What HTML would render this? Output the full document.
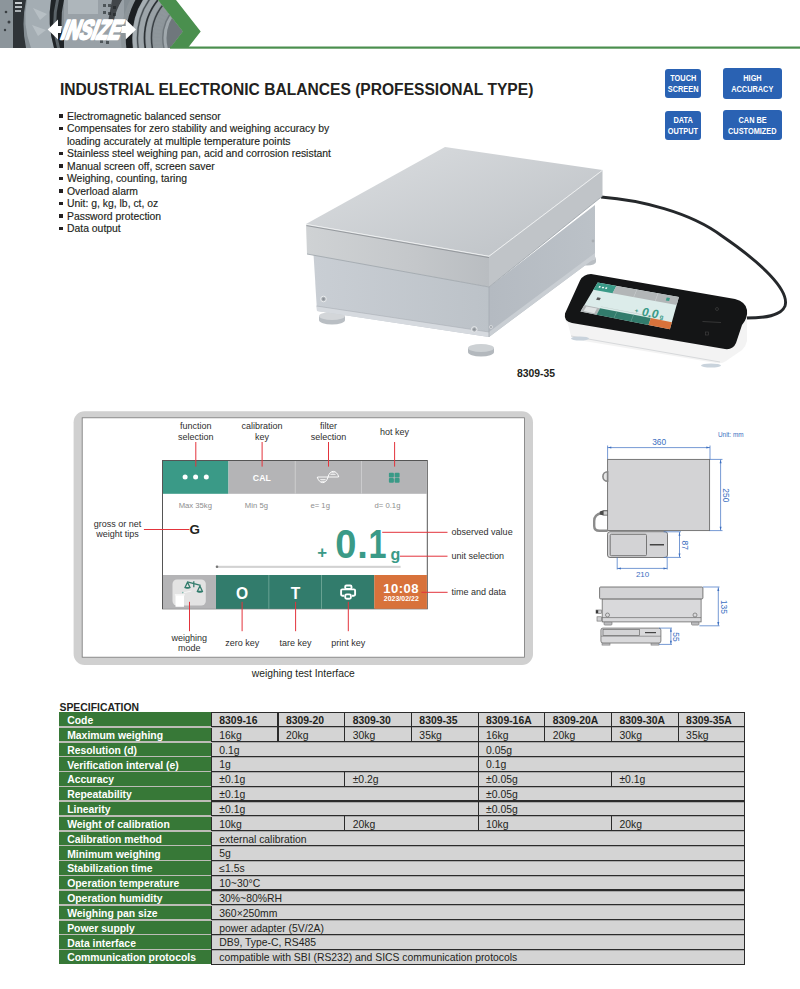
<!DOCTYPE html><html><head><meta charset='utf-8'><style>
*{margin:0;padding:0;box-sizing:border-box}
html,body{width:800px;height:989px;overflow:hidden;background:#fff}
body{position:relative;font-family:"Liberation Sans", sans-serif;color:#231f20}
.a{position:absolute;white-space:nowrap}
.t{-webkit-text-stroke:0.15px currentColor}
</style></head><body>
<svg class="a" style="left:0;top:0" width="800" height="50" viewBox="0 0 800 50">
<defs>
<linearGradient id="hg" x1="0" y1="0" x2="1" y2="0">
<stop offset="0" stop-color="#7d868d"/><stop offset="0.5" stop-color="#6a7279"/><stop offset="1" stop-color="#5d646a"/>
</linearGradient>
<clipPath id="hc"><polygon points="0,0 158,0 182.7,31.5 170,48 0,48"/></clipPath>
</defs>
<g clip-path="url(#hc)">
<rect x="0" y="0" width="200" height="48" fill="#858e94"/>
<rect x="0" y="0" width="15" height="48" fill="#8c959b"/>
<circle cx="6" cy="12" r="1.3" fill="#3a3f43"/><circle cx="9" cy="22" r="1.5" fill="#3a3f43"/><circle cx="5" cy="30" r="1.2" fill="#3a3f43"/>
<path d="M13,0 L26,0 Q21,24 26,48 L13,48 Z" fill="#2f3438"/>
<rect x="15" y="2" width="7" height="2" fill="#c9ced1"/><rect x="15" y="6" width="7" height="2" fill="#b9bfc3"/><rect x="15" y="10" width="6" height="2" fill="#aab0b4"/>
<path d="M27,0 L51,0 Q47,24 54,48 L31,48 Q22,24 27,0 Z" fill="#a4adb3"/>
<path d="M33,8 L47,14 L40,20 Z M32,25 L46,30 L38,36 Z" fill="#b7bfc4"/>
<path d="M51,0 L64,0 Q58,24 66,48 L54,48 Q47,24 51,0 Z" fill="#202427"/>
<path d="M56,0 L59,0 Q53,24 60,48 L57,48 Q50,24 56,0 Z" fill="#5b6368"/>
<rect x="64" y="0" width="60" height="48" fill="#99a1a7"/>
<rect x="68" y="0" width="30" height="14" fill="#aeb6bb"/>
<g fill="#4d5458"><rect x="103" y="4" width="3" height="3"/><rect x="108" y="4" width="3" height="3"/><rect x="113" y="6" width="3" height="3"/><rect x="103" y="11" width="3" height="3"/><rect x="108" y="12" width="3" height="3"/><rect x="113" y="13" width="3" height="3"/><rect x="100" y="40" width="3" height="3"/><rect x="106" y="41" width="3" height="3"/></g>
<circle cx="205" cy="38" r="84" fill="#8d959a"/>
<circle cx="205" cy="38" r="76" fill="none" stroke="#1c1f22" stroke-width="6.5"/>
<circle cx="205" cy="38" r="70.5" fill="none" stroke="#a6aeb3" stroke-width="3.5"/>
<circle cx="205" cy="38" r="67.5" fill="none" stroke="#474e53" stroke-width="1.3"/>
<circle cx="205" cy="38" r="64" fill="none" stroke="#9da5aa" stroke-width="4.5"/>
<circle cx="205" cy="38" r="60.5" fill="none" stroke="#2c3135" stroke-width="1.6"/>
<circle cx="205" cy="38" r="57" fill="none" stroke="#99a1a6" stroke-width="4"/>
<circle cx="205" cy="38" r="53.5" fill="none" stroke="#3a4045" stroke-width="1.5"/>
<circle cx="205" cy="38" r="48" fill="none" stroke="#8f979c" stroke-width="7" stroke-dasharray="2.4 1.4"/>
<circle cx="205" cy="38" r="43" fill="#6f777c"/>
<circle cx="205" cy="38" r="40" fill="none" stroke="#a0a8ad" stroke-width="3"/>
<path d="M112,0 L122,0 Q116,10 114,20 L108,22 Z" fill="#1c1f22" opacity="0.7"/>
</g>
<polygon points="158,0 176,0 200.7,31.5 187.8,48 170,48 182.7,31.5" fill="#4a8f4e"/>
<rect x="170" y="46.5" width="630" height="2.2" fill="#4a8f4e"/>
<g fill="#fff">
<polygon points="47.7,29.4 58,19.5 58,26 62,26 61,33 58,33 58,39.4"/>
<polygon points="136,29.4 125.7,19.5 125.7,26 122,26 121,33 125.7,33 125.7,39.4"/>
<text x="0" y="0" transform="translate(59.5,39.0) skewX(-20) scale(0.68,1)" font-family="Liberation Sans" font-weight="bold" font-size="27" stroke="#fff" stroke-width="2.3" stroke-linejoin="round">INSIZE</text>
</g>
</svg>
<div class="a" style="left:60px;top:81.3px;font-size:15.6px;line-height:18px;font-weight:bold;color:#231f20">INDUSTRIAL ELECTRONIC BALANCES (PROFESSIONAL TYPE)</div>
<div class="a" style="left:59.2px;top:114.30px;width:3.5px;height:3.5px;background:#231f20"></div>
<div class="a t" style="left:67px;top:110.70px;font-size:10.4px;line-height:12.5px">Electromagnetic balanced sensor</div>
<div class="a" style="left:59.2px;top:126.80px;width:3.5px;height:3.5px;background:#231f20"></div>
<div class="a t" style="left:67px;top:123.20px;font-size:10.4px;line-height:12.5px">Compensates for zero stability and weighing accuracy by</div>
<div class="a t" style="left:67px;top:135.70px;font-size:10.4px;line-height:12.5px">loading accurately at multiple temperature points</div>
<div class="a" style="left:59.2px;top:151.80px;width:3.5px;height:3.5px;background:#231f20"></div>
<div class="a t" style="left:67px;top:148.20px;font-size:10.4px;line-height:12.5px">Stainless steel weighing pan, acid and corrosion resistant</div>
<div class="a" style="left:59.2px;top:164.30px;width:3.5px;height:3.5px;background:#231f20"></div>
<div class="a t" style="left:67px;top:160.70px;font-size:10.4px;line-height:12.5px">Manual screen off, screen saver</div>
<div class="a" style="left:59.2px;top:176.80px;width:3.5px;height:3.5px;background:#231f20"></div>
<div class="a t" style="left:67px;top:173.20px;font-size:10.4px;line-height:12.5px">Weighing, counting, taring</div>
<div class="a" style="left:59.2px;top:189.30px;width:3.5px;height:3.5px;background:#231f20"></div>
<div class="a t" style="left:67px;top:185.70px;font-size:10.4px;line-height:12.5px">Overload alarm</div>
<div class="a" style="left:59.2px;top:201.80px;width:3.5px;height:3.5px;background:#231f20"></div>
<div class="a t" style="left:67px;top:198.20px;font-size:10.4px;line-height:12.5px">Unit: g, kg, lb, ct, oz</div>
<div class="a" style="left:59.2px;top:214.30px;width:3.5px;height:3.5px;background:#231f20"></div>
<div class="a t" style="left:67px;top:210.70px;font-size:10.4px;line-height:12.5px">Password protection</div>
<div class="a" style="left:59.2px;top:226.80px;width:3.5px;height:3.5px;background:#231f20"></div>
<div class="a t" style="left:67px;top:223.20px;font-size:10.4px;line-height:12.5px">Data output</div>
<div class="a" style="left:664.6px;top:68.6px;width:36.4px;height:29.8px;background:#2a62b3;border-radius:3px"></div>
<div class="a" style="left:649.6px;top:72.70px;width:66.4px;text-align:center;font-size:9.2px;line-height:11px;font-weight:bold;color:#fff"><span style="display:inline-block;transform:scaleX(0.8)">TOUCH</span></div>
<div class="a" style="left:649.6px;top:83.70px;width:66.4px;text-align:center;font-size:9.2px;line-height:11px;font-weight:bold;color:#fff"><span style="display:inline-block;transform:scaleX(0.8)">SCREEN</span></div>
<div class="a" style="left:723px;top:68.4px;width:58.6px;height:30.2px;background:#2a62b3;border-radius:3px"></div>
<div class="a" style="left:708px;top:72.50px;width:88.6px;text-align:center;font-size:9.2px;line-height:11px;font-weight:bold;color:#fff"><span style="display:inline-block;transform:scaleX(0.8)">HIGH</span></div>
<div class="a" style="left:708px;top:83.50px;width:88.6px;text-align:center;font-size:9.2px;line-height:11px;font-weight:bold;color:#fff"><span style="display:inline-block;transform:scaleX(0.8)">ACCURACY</span></div>
<div class="a" style="left:664.6px;top:110.6px;width:36.4px;height:29.6px;background:#2a62b3;border-radius:3px"></div>
<div class="a" style="left:649.6px;top:114.70px;width:66.4px;text-align:center;font-size:9.2px;line-height:11px;font-weight:bold;color:#fff"><span style="display:inline-block;transform:scaleX(0.8)">DATA</span></div>
<div class="a" style="left:649.6px;top:125.70px;width:66.4px;text-align:center;font-size:9.2px;line-height:11px;font-weight:bold;color:#fff"><span style="display:inline-block;transform:scaleX(0.8)">OUTPUT</span></div>
<div class="a" style="left:723px;top:110.4px;width:58.6px;height:29.8px;background:#2a62b3;border-radius:3px"></div>
<div class="a" style="left:708px;top:114.50px;width:88.6px;text-align:center;font-size:9.2px;line-height:11px;font-weight:bold;color:#fff"><span style="display:inline-block;transform:scaleX(0.8)">CAN BE</span></div>
<div class="a" style="left:708px;top:125.50px;width:88.6px;text-align:center;font-size:9.2px;line-height:11px;font-weight:bold;color:#fff"><span style="display:inline-block;transform:scaleX(0.8)">CUSTOMIZED</span></div>
<div class="a" style="left:517px;top:367px;font-size:10.4px;line-height:14px;font-weight:bold">8309-35</div>
<svg class="a" style="left:280px;top:135px" width="520" height="240" viewBox="280 135 520 240">
<defs>
<linearGradient id="gtop" x1="445" y1="147" x2="489" y2="256" gradientUnits="userSpaceOnUse">
<stop offset="0" stop-color="#d4d7da"/><stop offset="1" stop-color="#c2c6ca"/></linearGradient>
<linearGradient id="gfront" x1="306" y1="0" x2="489" y2="0" gradientUnits="userSpaceOnUse">
<stop offset="0" stop-color="#cfd2d4"/><stop offset="0.6" stop-color="#c4c7ca"/><stop offset="1" stop-color="#b9bdc1"/></linearGradient>
<linearGradient id="gbody" x1="314" y1="0" x2="489" y2="0" gradientUnits="userSpaceOnUse">
<stop offset="0" stop-color="#c9ced4"/><stop offset="1" stop-color="#bcc2c8"/></linearGradient>
<linearGradient id="gright" x1="489" y1="0" x2="600" y2="0" gradientUnits="userSpaceOnUse">
<stop offset="0" stop-color="#b4bac1"/><stop offset="1" stop-color="#bcc2c8"/></linearGradient>
<linearGradient id="gscreen" x1="0" y1="0" x2="0" y2="1">
<stop offset="0" stop-color="#e6f1ee"/><stop offset="1" stop-color="#d4e4e0"/></linearGradient>
</defs>
<!-- cable -->
<path d="M601,197 C640,200 690,212 722,236 C760,262 790,290 785,306 C781,316 765,318 746,318" fill="none" stroke="#25282b" stroke-width="2.9"/>
<!-- shadow -->

<!-- feet -->
<path d="M319,316 h26 v4 a13,4.5 0 0 1 -26,0 z" fill="#b9bec3"/>
<ellipse cx="332" cy="316" rx="13" ry="4" fill="#d3d6d9"/>
<path d="M468,348 h26 v4 a13,4.5 0 0 1 -26,0 z" fill="#b3b8bd"/>
<ellipse cx="481" cy="348" rx="13" ry="4" fill="#cdd1d4"/>
<path d="M578,258 h18 v4 a9,3.5 0 0 1 -18,0 z" fill="#b9bec3"/>
<ellipse cx="587" cy="258" rx="9" ry="3" fill="#d3d6d9"/>
<!-- body right -->
<polygon points="489,287 595,205 595,258 489,337" fill="url(#gright)"/>
<!-- body front -->
<polygon points="313.5,254 489,287 489,337 317,311" fill="url(#gbody)"/>
<polygon points="316.5,306 489,332 489,337 317,311" fill="#d6dadf"/><line x1="316.5" y1="306" x2="489" y2="332" stroke="#a9afb5" stroke-width="0.6"/>
<polygon points="489,332 595,253 595,258 489,337" fill="#c9ced3"/>
<line x1="489" y1="287" x2="489" y2="337" stroke="#a5abb1" stroke-width="0.8"/>
<!-- screws -->
<circle cx="323.5" cy="299" r="2.8" fill="#aeb3b8" stroke="#e9ebed" stroke-width="1"/><circle cx="323.5" cy="299" r="1.2" fill="#8c9196"/>
<circle cx="474.3" cy="329.4" r="2.8" fill="#aeb3b8" stroke="#e9ebed" stroke-width="1"/><circle cx="474.3" cy="329.4" r="1.2" fill="#8c9196"/>
<circle cx="491" cy="327" r="1.6" fill="#a8adb2" stroke="#e6e8ea" stroke-width="0.6"/>
<circle cx="593" cy="241" r="1.4" fill="#a8adb2"/>
<!-- pan -->
<polygon points="306,224 489,256 489,287 307,254" fill="url(#gfront)"/>
<polygon points="489,256 602.5,170 602.5,196 489,287" fill="#c0c4c8"/>
<polyline points="307,254 489,287 602.5,196" fill="none" stroke="#a3a9af" stroke-width="0.9"/>
<polygon points="306,224 445,147 602.5,170 489,256" fill="url(#gtop)"/>
<polyline points="306,224.3 489,256.3 602.5,170.3" fill="none" stroke="#eceeef" stroke-width="1"/>
<line x1="306.5" y1="225.6" x2="489" y2="257.6" stroke="#8e9397" stroke-width="0.9"/>
<!-- display unit -->
<path d="M566,314 Q564,321 568,324 L571,336 Q573,339 578,340 L716,363 Q722,364 726,361 L742,350 Q746,346 747,341 L747,313 Z" fill="#f3f3f3"/>
<path d="M571,336 L720,362" stroke="#d7d9db" stroke-width="1" fill="none"/>
<path d="M591,274 L735,299 Q746,302 747,310 Q748,318 742,325 L736,343 Q733,350 725,349 L572,323 Q563.5,321.5 565,313.5 L580,280.5 Q583.5,274 591,274 Z" fill="#141516"/>
<polygon points="597.70,282.60 678.90,297.00 669.90,329.30 580.50,311.45" fill="#dcecea"/><polygon points="597.70,282.60 616.38,285.91 612.55,293.32 593.40,289.81" fill="#3a9a87"/><polygon points="616.38,285.91 678.90,297.00 676.65,305.07 612.55,293.32" fill="#b2b6b7"/><polygon points="636.68,289.51 637.16,289.60 633.86,297.23 633.36,297.14" fill="#cfd2d3"/><polygon points="657.79,293.26 658.28,293.34 655.50,301.20 655.00,301.11" fill="#cfd2d3"/><polygon points="666.72,297.53 669.99,298.12 669.11,300.99 665.81,300.39" fill="#3a9a87"/><polygon points="599.26,286.07 600.90,286.37 600.07,287.82 598.42,287.52" fill="#fff"/><polygon points="602.54,286.66 604.18,286.96 603.36,288.42 601.71,288.12" fill="#fff"/><polygon points="605.82,287.25 607.46,287.55 606.66,289.02 605.01,288.72" fill="#fff"/><polygon points="597.44,297.31 600.83,297.95 599.54,300.29 596.12,299.64" fill="#555"/><polygon points="600.99,306.41 653.26,316.54 653.10,317.01 600.76,306.85" fill="#b8c4c2"/><polygon points="584.28,305.10 600.05,308.18 596.59,314.66 580.50,311.45" fill="#b2b6b7"/><polygon points="586.40,306.48 596.94,308.55 594.39,313.25 583.69,311.12" fill="#dfe3e3"/><polygon points="600.05,308.18 650.86,318.09 648.44,325.02 596.59,314.66" fill="#327c6c"/><polygon points="616.69,311.43 617.22,311.53 614.11,318.16 613.58,318.05" fill="#6fa697"/><polygon points="633.34,314.67 633.86,314.78 631.10,321.55 630.56,321.45" fill="#6fa697"/><polygon points="650.86,318.09 671.88,322.19 669.90,329.30 648.44,325.02" fill="#d8723b"/>
<g fill="#3a9a87" font-family="Liberation Sans" font-weight="bold"><text x="0" y="0" transform="translate(641,315.5) rotate(10) skewX(-8)" font-size="12">0.0</text><text x="0" y="0" transform="translate(659.5,318.5) rotate(10)" font-size="6">g</text><text x="0" y="0" transform="translate(634.5,312.5) rotate(10)" font-size="6">+</text></g>
<circle cx="717" cy="309" r="1.5" fill="none" stroke="#444" stroke-width="0.6"/>
<line x1="702.5" y1="321.5" x2="721" y2="322.5" stroke="#444" stroke-width="0.7"/>
<rect x="705.5" y="332" width="3" height="3" fill="none" stroke="#444" stroke-width="0.6"/>
<ellipse cx="580" cy="338.5" rx="9" ry="2" fill="#c9d3dc"/>
<ellipse cx="711" cy="365.5" rx="10" ry="2" fill="#c9d3dc"/>
</svg>
<svg class="a" style="left:0;top:400px" width="800" height="290" viewBox="0 400 800 290"><rect x="73.6" y="411.3" width="459.4" height="253.7" rx="11" ry="11" fill="#d0d0d0"/><rect x="82.2" y="417.8" width="442.2" height="239.4" fill="#fff" stroke="#777" stroke-width="0.8"/><rect x="162.5" y="460.5" width="264.8" height="148.3" fill="#fff" stroke="#555" stroke-width="1"/><rect x="163" y="461" width="65.5" height="32.8" fill="#3a9a87"/><rect x="228.5" y="461" width="198.4" height="32.8" fill="#b4b4b6"/><rect x="294.8" y="461" width="0.9" height="32.8" fill="#cfcfd0"/><rect x="361" y="461" width="0.9" height="32.8" fill="#cfcfd0"/><circle cx="185.1" cy="477.1" r="2.5" fill="#fff"/><circle cx="195.6" cy="477.1" r="2.5" fill="#fff"/><circle cx="206.3" cy="477.1" r="2.5" fill="#fff"/><text x="261.8" y="480.6" text-anchor="middle" font-family="Liberation Sans" font-weight="bold" font-size="8.7" fill="#fff">CAL</text><g fill="none" stroke="#fff" stroke-width="1"><path d="M317.2,477 C319.5,484.5 326,484.5 328,477 C330,469.5 336.5,469.5 338.8,477"/><path d="M317.5,477 H338.5" stroke-width="0.9"/><path d="M320.3,479.6 H325.6 M321.2,481.3 H324.8 M330.4,474.4 H335.6 M331.4,472.8 H334.6" stroke-width="0.8"/></g><rect x="388.9" y="472.8" width="5" height="4.8" rx="1" fill="#3a9a87"/><rect x="394.6" y="472.8" width="5" height="4.8" rx="1" fill="#3a9a87"/><rect x="388.9" y="478" width="5" height="4.8" rx="1" fill="#3a9a87"/><rect x="394.6" y="478" width="5" height="4.8" rx="1" fill="#3a9a87"/><text x="195.3" y="507.8" text-anchor="middle" font-family="Liberation Sans" font-size="7.7" fill="#8d8d8d">Max 35kg</text><text x="256.4" y="507.8" text-anchor="middle" font-family="Liberation Sans" font-size="7.7" fill="#8d8d8d">Min 5g</text><text x="320.2" y="507.8" text-anchor="middle" font-family="Liberation Sans" font-size="7.7" fill="#8d8d8d">e= 1g</text><text x="387.5" y="507.8" text-anchor="middle" font-family="Liberation Sans" font-size="7.7" fill="#8d8d8d">d= 0.1g</text><text x="189.6" y="533.9" font-family="Liberation Sans" font-weight="bold" font-size="13.4" fill="#231f20">G</text><g fill="#3a9a87" font-family="Liberation Sans" font-weight="bold"><text x="0" y="0" font-size="16.8" transform="translate(317.2,558.4)">+</text><text x="0" y="0" font-size="40.5" transform="translate(335.2,558.2) scale(0.94,1)">0</text><text x="0" y="0" font-size="40.5" transform="translate(357.2,558.2) scale(0.94,1)">.</text><text x="0" y="0" font-size="40.5" transform="translate(368.4,558.2) scale(0.8,1)">1</text><text x="0" y="0" font-size="16" transform="translate(390.6,559.6)">g</text></g><rect x="216" y="565.8" width="184.6" height="2.1" fill="#d2d2d2"/><circle cx="217" cy="566.8" r="1.3" fill="#777"/><rect x="163" y="575" width="53" height="33.8" fill="#b4b4b6"/><rect x="172.5" y="579.4" width="33.3" height="26.2" rx="4.5" fill="#e3e3e3"/><rect x="175.5" y="594.8" width="8.5" height="12" fill="#fff"/><rect x="174.8" y="594" width="10" height="1.6" fill="#f4f4f4"/><g fill="none" stroke="#327c6c" stroke-width="1.3" stroke-linejoin="round"><path d="M187.3,581.8 L200.6,585.3 M193.8,581.2 V587.2"/><path d="M187.5,582.2 L185,587.6 H190 Z"/><path d="M199.9,586 L197.3,591.5 H202.5 Z"/></g><g fill="#327c6c"><path d="M184.3,587.3 Q187.5,590.3 190.7,587.3 Z"/><path d="M196.6,591.2 Q199.9,594.2 203.2,591.2 Z"/></g><path d="M182.5,593 L191.5,591" stroke="#fff" stroke-width="0.8" opacity="0.8"/><circle cx="182.8" cy="592.6" r="0.8" fill="#3a9a87" opacity="0.6"/><rect x="216" y="575" width="158.4" height="33.8" fill="#327c6c"/><rect x="268.4" y="575" width="0.9" height="33.8" fill="#6fa697"/><rect x="321.1" y="575" width="0.9" height="33.8" fill="#6fa697"/><rect x="374.3" y="575" width="52.6" height="33.8" fill="#d8723b"/><text x="242.1" y="598.6" text-anchor="middle" font-family="Liberation Sans" font-weight="bold" font-size="15.6" fill="#fff">O</text><text x="295.6" y="598.6" text-anchor="middle" font-family="Liberation Sans" font-weight="bold" font-size="15.6" fill="#fff">T</text><g fill="none" stroke="#fff" stroke-width="1.9" stroke-linejoin="round"><rect x="345.2" y="585.5" width="6.3" height="3.4" rx="1.2"/><path d="M344.2,595.8 H342.3 Q341.1,595.8 341.1,594.6 V590.6 Q341.1,589.4 342.3,589.4 H353.9 Q355.1,589.4 355.1,590.6 V594.6 Q355.1,595.8 353.9,595.8 H352"/><rect x="345.2" y="594.4" width="5.7" height="4.4" rx="1.5"/></g><text x="401.1" y="593" text-anchor="middle" font-family="Liberation Sans" font-weight="bold" font-size="13.1" letter-spacing="0.4" fill="#fff">10:08</text><text x="401.3" y="601.1" text-anchor="middle" font-family="Liberation Sans" font-weight="bold" font-size="6.9" letter-spacing="0.05" fill="#fff">2023/02/22</text><rect x="195.3" y="442" width="1" height="24.600000000000023" fill="#e3343c"/><rect x="261.6" y="442" width="1" height="24.600000000000023" fill="#e3343c"/><rect x="328.0" y="442" width="1" height="24.600000000000023" fill="#e3343c"/><rect x="394.1" y="442" width="1" height="24.600000000000023" fill="#e3343c"/><rect x="189.0" y="601.8" width="1" height="29.40000000000009" fill="#e3343c"/><rect x="241.6" y="601.8" width="1" height="29.40000000000009" fill="#e3343c"/><rect x="295.1" y="601.8" width="1" height="29.40000000000009" fill="#e3343c"/><rect x="347.8" y="601.8" width="1" height="29.40000000000009" fill="#e3343c"/><rect x="143.9" y="529.0" width="45.5" height="1" fill="#e3343c"/><rect x="382.2" y="531.8" width="65.30000000000001" height="1" fill="#e3343c"/><rect x="399.8" y="555.7" width="47.69999999999999" height="1" fill="#e3343c"/><rect x="421.4" y="591.8" width="26.200000000000045" height="1" fill="#e3343c"/><text x="195.8" y="429.4" text-anchor="middle" font-family="Liberation Sans" font-size="9" fill="#2e2e2e">function</text><text x="195.8" y="440.4" text-anchor="middle" font-family="Liberation Sans" font-size="9" fill="#2e2e2e">selection</text><text x="262.1" y="429.4" text-anchor="middle" font-family="Liberation Sans" font-size="9" fill="#2e2e2e">calibration</text><text x="262.1" y="440.4" text-anchor="middle" font-family="Liberation Sans" font-size="9" fill="#2e2e2e">key</text><text x="328.5" y="429.4" text-anchor="middle" font-family="Liberation Sans" font-size="9" fill="#2e2e2e">filter</text><text x="328.5" y="440.4" text-anchor="middle" font-family="Liberation Sans" font-size="9" fill="#2e2e2e">selection</text><text x="394.6" y="434.8" text-anchor="middle" font-family="Liberation Sans" font-size="9" fill="#2e2e2e">hot key</text><text x="117.6" y="526.9" text-anchor="middle" font-family="Liberation Sans" font-size="9" fill="#2e2e2e">gross or net</text><text x="117.6" y="537.4" text-anchor="middle" font-family="Liberation Sans" font-size="9" fill="#2e2e2e">weight tips</text><text x="451.6" y="534.9" text-anchor="start" font-family="Liberation Sans" font-size="9" fill="#2e2e2e">observed value</text><text x="451.6" y="558.7" text-anchor="start" font-family="Liberation Sans" font-size="9" fill="#2e2e2e">unit selection</text><text x="451.6" y="594.8" text-anchor="start" font-family="Liberation Sans" font-size="9" fill="#2e2e2e">time and data</text><text x="189.2" y="640.6" text-anchor="middle" font-family="Liberation Sans" font-size="9" fill="#2e2e2e">weighing</text><text x="189.2" y="651.1" text-anchor="middle" font-family="Liberation Sans" font-size="9" fill="#2e2e2e">mode</text><text x="242.2" y="645.9" text-anchor="middle" font-family="Liberation Sans" font-size="9" fill="#2e2e2e">zero key</text><text x="295.6" y="645.9" text-anchor="middle" font-family="Liberation Sans" font-size="9" fill="#2e2e2e">tare key</text><text x="348.3" y="645.9" text-anchor="middle" font-family="Liberation Sans" font-size="9" fill="#2e2e2e">print key</text><text x="303.3" y="676.6" text-anchor="middle" font-family="Liberation Sans" font-size="10.3" fill="#231f20">weighing test Interface</text></svg>
<svg class="a" style="left:580px;top:420px" width="180" height="235" viewBox="580 420 180 235"><text x="718" y="436.6" font-family="Liberation Sans" font-size="6.4" fill="#3b6fc1">Unit: mm</text><rect x="607.6" y="459.4" width="102" height="71.2" fill="#d3d3d5" stroke="#6b6b6b" stroke-width="0.9"/><path d="M607.6,471.8 A4.6,4.6 0 0 0 607.6,481.2 Z" fill="#e6e6e6" stroke="#858585" stroke-width="1.6"/><path d="M601.5,513 Q594.2,514.5 594.2,521 V526 Q594.2,530.8 599.5,530.8 H607.6" fill="none" stroke="#8c8c8c" stroke-width="2.4"/><polygon points="599.8,511.6 603.4,510.3 607.6,510.3 607.6,515.6 603.4,515.6 599.8,514.4" fill="#4a4a4a"/><rect x="603.6" y="511.2" width="3.6" height="3.6" fill="#d0d0d0"/><rect x="607.5" y="531.7" width="60" height="25.8" rx="2.5" fill="#d3d3d5" stroke="#6b6b6b" stroke-width="0.9"/><rect x="610.2" y="534.3" width="36.3" height="21.4" rx="1.2" fill="#d3d3d5" stroke="#6b6b6b" stroke-width="0.9"/><rect x="649.8" y="544" width="14.2" height="1.5" fill="#444"/><line x1="607.6" y1="445.5" x2="607.6" y2="459" stroke="#3b6fc1" stroke-width="0.7"/><line x1="710" y1="445.5" x2="710" y2="459.4" stroke="#3b6fc1" stroke-width="0.7"/><line x1="607.6" y1="447.6" x2="710" y2="447.6" stroke="#3b6fc1" stroke-width="0.7"/><path d="M607.8,447.6 l3.5,-1 v2 z M709.8,447.6 l-3.5,-1 v2 z" fill="#3b6fc1"/><text x="659.2" y="445.4" text-anchor="middle" font-family="Liberation Sans" font-size="8.4" fill="#3b6fc1">360</text><line x1="710" y1="459.4" x2="722.5" y2="459.4" stroke="#3b6fc1" stroke-width="0.7"/><line x1="709.6" y1="530.6" x2="722.5" y2="530.6" stroke="#3b6fc1" stroke-width="0.7"/><line x1="720.6" y1="459.6" x2="720.6" y2="530.4" stroke="#3b6fc1" stroke-width="0.7"/><path d="M720.6,459.8 l-1,3.5 h2 z M720.6,530.2 l-1,-3.5 h2 z" fill="#3b6fc1"/><text x="0" y="0" transform="translate(722.6,495.3) rotate(90)" text-anchor="middle" font-family="Liberation Sans" font-size="8.4" fill="#3b6fc1">250</text><line x1="663.7" y1="531.8" x2="681" y2="531.8" stroke="#3b6fc1" stroke-width="0.7"/><line x1="663.7" y1="557.4" x2="681" y2="557.4" stroke="#3b6fc1" stroke-width="0.7"/><line x1="679.5" y1="532" x2="679.5" y2="557.2" stroke="#3b6fc1" stroke-width="0.7"/><path d="M679.5,532.2 l-1,3.5 h2 z M679.5,557 l-1,-3.5 h2 z" fill="#3b6fc1"/><text x="0" y="0" transform="translate(682.2,545.2) rotate(90)" text-anchor="middle" font-family="Liberation Sans" font-size="8.4" fill="#3b6fc1">87</text><line x1="617.2" y1="557.5" x2="617.2" y2="569.5" stroke="#3b6fc1" stroke-width="0.7"/><line x1="667.2" y1="557.5" x2="667.2" y2="569.5" stroke="#3b6fc1" stroke-width="0.7"/><line x1="617.2" y1="568.4" x2="667.2" y2="568.4" stroke="#3b6fc1" stroke-width="0.7"/><path d="M617.4,568.4 l3.5,-1 v2 z M667,568.4 l-3.5,-1 v2 z" fill="#3b6fc1"/><text x="642.6" y="576.6" text-anchor="middle" font-family="Liberation Sans" font-size="8" fill="#3b6fc1">210</text><rect x="604" y="621.5" width="8" height="3.6" rx="1" fill="#bdbdbf" stroke="#6b6b6b" stroke-width="0.6"/><rect x="691.5" y="621.5" width="7.5" height="3.6" rx="1" fill="#bdbdbf" stroke="#6b6b6b" stroke-width="0.6"/><rect x="602.2" y="598.9" width="98.9" height="23" fill="#d9d9db" stroke="#6b6b6b" stroke-width="0.8"/><line x1="601.6" y1="617.6" x2="701.1" y2="617.6" stroke="#6b6b6b" stroke-width="0.7"/><rect x="599.6" y="587" width="103.3" height="11.9" rx="1" fill="#d3d3d5" stroke="#6b6b6b" stroke-width="0.9"/><circle cx="607.5" cy="615" r="2" fill="none" stroke="#6b6b6b" stroke-width="0.7"/><circle cx="695" cy="615" r="2" fill="none" stroke="#6b6b6b" stroke-width="0.7"/><rect x="596" y="610" width="5.6" height="3.3" fill="#d0d0d2" stroke="#6b6b6b" stroke-width="0.6"/><rect x="596" y="610.2" width="2.2" height="2.9" fill="#3a3a3a"/><rect x="597" y="616.8" width="4.6" height="4.3" fill="#d0d0d2" stroke="#6b6b6b" stroke-width="0.6"/><line x1="702.9" y1="587" x2="719.5" y2="587" stroke="#3b6fc1" stroke-width="0.7"/><line x1="699.4" y1="625.8" x2="719.5" y2="625.8" stroke="#3b6fc1" stroke-width="0.7"/><line x1="718.3" y1="587.4" x2="718.3" y2="625.6" stroke="#3b6fc1" stroke-width="0.7"/><path d="M718.3,587.6 l-1,3.5 h2 z M718.3,625.4 l-1,-3.5 h2 z" fill="#3b6fc1"/><text x="0" y="0" transform="translate(720.6,606.9) rotate(90)" text-anchor="middle" font-family="Liberation Sans" font-size="8.4" fill="#3b6fc1">135</text><rect x="602" y="642.5" width="8" height="2.6" fill="#bdbdbf" stroke="#6b6b6b" stroke-width="0.5"/><rect x="651" y="642.5" width="8" height="2.6" fill="#bdbdbf" stroke="#6b6b6b" stroke-width="0.5"/><rect x="600.9" y="628.1" width="60" height="14.9" rx="2" fill="#d9d9db" stroke="#6b6b6b" stroke-width="0.8"/><rect x="603" y="629.5" width="36.5" height="6.1" fill="#d3d3d5" stroke="#6b6b6b" stroke-width="0.7"/><line x1="601" y1="636.2" x2="660.8" y2="636.2" stroke="#6b6b6b" stroke-width="0.6"/><rect x="645" y="632" width="11" height="1.2" fill="#444"/><line x1="659" y1="628.1" x2="672" y2="628.1" stroke="#3b6fc1" stroke-width="0.7"/><line x1="659" y1="644.4" x2="672" y2="644.4" stroke="#3b6fc1" stroke-width="0.7"/><line x1="670.9" y1="628.4" x2="670.9" y2="644.2" stroke="#3b6fc1" stroke-width="0.7"/><path d="M670.9,628.6 l-1,3.2 h2 z M670.9,644 l-1,-3.2 h2 z" fill="#3b6fc1"/><text x="0" y="0" transform="translate(672.6,636.9) rotate(90)" text-anchor="middle" font-family="Liberation Sans" font-size="8.4" fill="#3b6fc1">55</text></svg>
<div class="a" style="left:59.5px;top:701px;font-size:10.4px;line-height:14px;font-weight:bold">SPECIFICATION</div>
<div class="a" style="left:59.0px;top:712.1px;width:152.50px;height:252.11px;background:#377837"></div>
<div class="a" style="left:211.3px;top:712.1px;width:533.70px;height:252.41px;background:#d4d4d4;border:1px solid #2b2b2b"></div>
<div class="a" style="left:67.2px;top:714.10px;font-size:10.4px;line-height:14.83px;font-weight:bold;color:#fff">Code</div>
<div class="a" style="left:219.30px;top:713.90px;font-size:10.4px;line-height:14.83px;font-weight:bold;color:#231f20">8309-16</div>
<div class="a" style="left:277.49px;top:712.10px;width:1.2px;height:14.83px;background:#2b2b2b"></div>
<div class="a" style="left:285.99px;top:713.90px;font-size:10.4px;line-height:14.83px;font-weight:bold;color:#231f20">8309-20</div>
<div class="a" style="left:344.18px;top:712.10px;width:1.2px;height:14.83px;background:#2b2b2b"></div>
<div class="a" style="left:352.68px;top:713.90px;font-size:10.4px;line-height:14.83px;font-weight:bold;color:#231f20">8309-30</div>
<div class="a" style="left:410.86px;top:712.10px;width:1.2px;height:14.83px;background:#2b2b2b"></div>
<div class="a" style="left:419.36px;top:713.90px;font-size:10.4px;line-height:14.83px;font-weight:bold;color:#231f20">8309-35</div>
<div class="a" style="left:477.55px;top:712.10px;width:1.2px;height:14.83px;background:#2b2b2b"></div>
<div class="a" style="left:486.05px;top:713.90px;font-size:10.4px;line-height:14.83px;font-weight:bold;color:#231f20">8309-16A</div>
<div class="a" style="left:544.24px;top:712.10px;width:1.2px;height:14.83px;background:#2b2b2b"></div>
<div class="a" style="left:552.74px;top:713.90px;font-size:10.4px;line-height:14.83px;font-weight:bold;color:#231f20">8309-20A</div>
<div class="a" style="left:610.92px;top:712.10px;width:1.2px;height:14.83px;background:#2b2b2b"></div>
<div class="a" style="left:619.42px;top:713.90px;font-size:10.4px;line-height:14.83px;font-weight:bold;color:#231f20">8309-30A</div>
<div class="a" style="left:677.61px;top:712.10px;width:1.2px;height:14.83px;background:#2b2b2b"></div>
<div class="a" style="left:686.11px;top:713.90px;font-size:10.4px;line-height:14.83px;font-weight:bold;color:#231f20">8309-35A</div>
<div class="a" style="left:59.0px;top:726.33px;width:152.50px;height:1.5px;background:#bdbdb7"></div>
<div class="a" style="left:211.3px;top:726.33px;width:533.70px;height:1.1px;background:#2b2b2b"></div>
<div class="a" style="left:212.3px;top:727.43px;width:531.70px;height:0.9px;background:#a9a9a9"></div>
<div class="a" style="left:67.2px;top:728.93px;font-size:10.4px;line-height:14.83px;font-weight:bold;color:#fff">Maximum weighing</div>
<div class="a" style="left:219.30px;top:728.73px;font-size:10.4px;line-height:14.83px;font-weight:normal;color:#231f20">16kg</div>
<div class="a" style="left:277.49px;top:726.93px;width:1.2px;height:14.83px;background:#2b2b2b"></div>
<div class="a" style="left:285.99px;top:728.73px;font-size:10.4px;line-height:14.83px;font-weight:normal;color:#231f20">20kg</div>
<div class="a" style="left:344.18px;top:726.93px;width:1.2px;height:14.83px;background:#2b2b2b"></div>
<div class="a" style="left:352.68px;top:728.73px;font-size:10.4px;line-height:14.83px;font-weight:normal;color:#231f20">30kg</div>
<div class="a" style="left:410.86px;top:726.93px;width:1.2px;height:14.83px;background:#2b2b2b"></div>
<div class="a" style="left:419.36px;top:728.73px;font-size:10.4px;line-height:14.83px;font-weight:normal;color:#231f20">35kg</div>
<div class="a" style="left:477.55px;top:726.93px;width:1.2px;height:14.83px;background:#2b2b2b"></div>
<div class="a" style="left:486.05px;top:728.73px;font-size:10.4px;line-height:14.83px;font-weight:normal;color:#231f20">16kg</div>
<div class="a" style="left:544.24px;top:726.93px;width:1.2px;height:14.83px;background:#2b2b2b"></div>
<div class="a" style="left:552.74px;top:728.73px;font-size:10.4px;line-height:14.83px;font-weight:normal;color:#231f20">20kg</div>
<div class="a" style="left:610.92px;top:726.93px;width:1.2px;height:14.83px;background:#2b2b2b"></div>
<div class="a" style="left:619.42px;top:728.73px;font-size:10.4px;line-height:14.83px;font-weight:normal;color:#231f20">30kg</div>
<div class="a" style="left:677.61px;top:726.93px;width:1.2px;height:14.83px;background:#2b2b2b"></div>
<div class="a" style="left:686.11px;top:728.73px;font-size:10.4px;line-height:14.83px;font-weight:normal;color:#231f20">35kg</div>
<div class="a" style="left:59.0px;top:741.16px;width:152.50px;height:1.5px;background:#bdbdb7"></div>
<div class="a" style="left:211.3px;top:741.16px;width:533.70px;height:1.1px;background:#2b2b2b"></div>
<div class="a" style="left:212.3px;top:742.26px;width:531.70px;height:0.9px;background:#a9a9a9"></div>
<div class="a" style="left:67.2px;top:743.76px;font-size:10.4px;line-height:14.83px;font-weight:bold;color:#fff">Resolution (d)</div>
<div class="a" style="left:219.30px;top:743.56px;font-size:10.4px;line-height:14.83px;font-weight:normal;color:#231f20">0.1g</div>
<div class="a" style="left:477.55px;top:741.76px;width:1.2px;height:14.83px;background:#2b2b2b"></div>
<div class="a" style="left:486.05px;top:743.56px;font-size:10.4px;line-height:14.83px;font-weight:normal;color:#231f20">0.05g</div>
<div class="a" style="left:59.0px;top:755.99px;width:152.50px;height:1.5px;background:#bdbdb7"></div>
<div class="a" style="left:211.3px;top:755.99px;width:533.70px;height:1.1px;background:#2b2b2b"></div>
<div class="a" style="left:212.3px;top:757.09px;width:531.70px;height:0.9px;background:#a9a9a9"></div>
<div class="a" style="left:67.2px;top:758.59px;font-size:10.4px;line-height:14.83px;font-weight:bold;color:#fff">Verification interval (e)</div>
<div class="a" style="left:219.30px;top:758.39px;font-size:10.4px;line-height:14.83px;font-weight:normal;color:#231f20">1g</div>
<div class="a" style="left:477.55px;top:756.59px;width:1.2px;height:14.83px;background:#2b2b2b"></div>
<div class="a" style="left:486.05px;top:758.39px;font-size:10.4px;line-height:14.83px;font-weight:normal;color:#231f20">0.1g</div>
<div class="a" style="left:59.0px;top:770.82px;width:152.50px;height:1.5px;background:#bdbdb7"></div>
<div class="a" style="left:211.3px;top:770.82px;width:533.70px;height:1.1px;background:#2b2b2b"></div>
<div class="a" style="left:212.3px;top:771.92px;width:531.70px;height:0.9px;background:#a9a9a9"></div>
<div class="a" style="left:67.2px;top:773.42px;font-size:10.4px;line-height:14.83px;font-weight:bold;color:#fff">Accuracy</div>
<div class="a" style="left:219.30px;top:773.22px;font-size:10.4px;line-height:14.83px;font-weight:normal;color:#231f20">±0.1g</div>
<div class="a" style="left:344.18px;top:771.42px;width:1.2px;height:14.83px;background:#2b2b2b"></div>
<div class="a" style="left:352.68px;top:773.22px;font-size:10.4px;line-height:14.83px;font-weight:normal;color:#231f20">±0.2g</div>
<div class="a" style="left:477.55px;top:771.42px;width:1.2px;height:14.83px;background:#2b2b2b"></div>
<div class="a" style="left:486.05px;top:773.22px;font-size:10.4px;line-height:14.83px;font-weight:normal;color:#231f20">±0.05g</div>
<div class="a" style="left:610.92px;top:771.42px;width:1.2px;height:14.83px;background:#2b2b2b"></div>
<div class="a" style="left:619.42px;top:773.22px;font-size:10.4px;line-height:14.83px;font-weight:normal;color:#231f20">±0.1g</div>
<div class="a" style="left:59.0px;top:785.65px;width:152.50px;height:1.5px;background:#bdbdb7"></div>
<div class="a" style="left:211.3px;top:785.65px;width:533.70px;height:1.1px;background:#2b2b2b"></div>
<div class="a" style="left:212.3px;top:786.75px;width:531.70px;height:0.9px;background:#a9a9a9"></div>
<div class="a" style="left:67.2px;top:788.25px;font-size:10.4px;line-height:14.83px;font-weight:bold;color:#fff">Repeatability</div>
<div class="a" style="left:219.30px;top:788.05px;font-size:10.4px;line-height:14.83px;font-weight:normal;color:#231f20">±0.1g</div>
<div class="a" style="left:477.55px;top:786.25px;width:1.2px;height:14.83px;background:#2b2b2b"></div>
<div class="a" style="left:486.05px;top:788.05px;font-size:10.4px;line-height:14.83px;font-weight:normal;color:#231f20">±0.05g</div>
<div class="a" style="left:59.0px;top:800.48px;width:152.50px;height:1.5px;background:#bdbdb7"></div>
<div class="a" style="left:211.3px;top:800.48px;width:533.70px;height:1.1px;background:#2b2b2b"></div>
<div class="a" style="left:212.3px;top:801.58px;width:531.70px;height:0.9px;background:#a9a9a9"></div>
<div class="a" style="left:67.2px;top:803.08px;font-size:10.4px;line-height:14.83px;font-weight:bold;color:#fff">Linearity</div>
<div class="a" style="left:219.30px;top:802.88px;font-size:10.4px;line-height:14.83px;font-weight:normal;color:#231f20">±0.1g</div>
<div class="a" style="left:477.55px;top:801.08px;width:1.2px;height:14.83px;background:#2b2b2b"></div>
<div class="a" style="left:486.05px;top:802.88px;font-size:10.4px;line-height:14.83px;font-weight:normal;color:#231f20">±0.05g</div>
<div class="a" style="left:59.0px;top:815.31px;width:152.50px;height:1.5px;background:#bdbdb7"></div>
<div class="a" style="left:211.3px;top:815.31px;width:533.70px;height:1.1px;background:#2b2b2b"></div>
<div class="a" style="left:212.3px;top:816.41px;width:531.70px;height:0.9px;background:#a9a9a9"></div>
<div class="a" style="left:67.2px;top:817.91px;font-size:10.4px;line-height:14.83px;font-weight:bold;color:#fff">Weight of calibration</div>
<div class="a" style="left:219.30px;top:817.71px;font-size:10.4px;line-height:14.83px;font-weight:normal;color:#231f20">10kg</div>
<div class="a" style="left:344.18px;top:815.91px;width:1.2px;height:14.83px;background:#2b2b2b"></div>
<div class="a" style="left:352.68px;top:817.71px;font-size:10.4px;line-height:14.83px;font-weight:normal;color:#231f20">20kg</div>
<div class="a" style="left:477.55px;top:815.91px;width:1.2px;height:14.83px;background:#2b2b2b"></div>
<div class="a" style="left:486.05px;top:817.71px;font-size:10.4px;line-height:14.83px;font-weight:normal;color:#231f20">10kg</div>
<div class="a" style="left:610.92px;top:815.91px;width:1.2px;height:14.83px;background:#2b2b2b"></div>
<div class="a" style="left:619.42px;top:817.71px;font-size:10.4px;line-height:14.83px;font-weight:normal;color:#231f20">20kg</div>
<div class="a" style="left:59.0px;top:830.14px;width:152.50px;height:1.5px;background:#bdbdb7"></div>
<div class="a" style="left:211.3px;top:830.14px;width:533.70px;height:1.1px;background:#2b2b2b"></div>
<div class="a" style="left:212.3px;top:831.24px;width:531.70px;height:0.9px;background:#a9a9a9"></div>
<div class="a" style="left:67.2px;top:832.74px;font-size:10.4px;line-height:14.83px;font-weight:bold;color:#fff">Calibration method</div>
<div class="a" style="left:219.30px;top:832.54px;font-size:10.4px;line-height:14.83px;font-weight:normal;color:#231f20">external calibration</div>
<div class="a" style="left:59.0px;top:844.97px;width:152.50px;height:1.5px;background:#bdbdb7"></div>
<div class="a" style="left:211.3px;top:844.97px;width:533.70px;height:1.1px;background:#2b2b2b"></div>
<div class="a" style="left:212.3px;top:846.07px;width:531.70px;height:0.9px;background:#a9a9a9"></div>
<div class="a" style="left:67.2px;top:847.57px;font-size:10.4px;line-height:14.83px;font-weight:bold;color:#fff">Minimum weighing</div>
<div class="a" style="left:219.30px;top:847.37px;font-size:10.4px;line-height:14.83px;font-weight:normal;color:#231f20">5g</div>
<div class="a" style="left:59.0px;top:859.80px;width:152.50px;height:1.5px;background:#bdbdb7"></div>
<div class="a" style="left:211.3px;top:859.80px;width:533.70px;height:1.1px;background:#2b2b2b"></div>
<div class="a" style="left:212.3px;top:860.90px;width:531.70px;height:0.9px;background:#a9a9a9"></div>
<div class="a" style="left:67.2px;top:862.40px;font-size:10.4px;line-height:14.83px;font-weight:bold;color:#fff">Stabilization time</div>
<div class="a" style="left:219.30px;top:862.20px;font-size:10.4px;line-height:14.83px;font-weight:normal;color:#231f20">≤1.5s</div>
<div class="a" style="left:59.0px;top:874.63px;width:152.50px;height:1.5px;background:#bdbdb7"></div>
<div class="a" style="left:211.3px;top:874.63px;width:533.70px;height:1.1px;background:#2b2b2b"></div>
<div class="a" style="left:212.3px;top:875.73px;width:531.70px;height:0.9px;background:#a9a9a9"></div>
<div class="a" style="left:67.2px;top:877.23px;font-size:10.4px;line-height:14.83px;font-weight:bold;color:#fff">Operation temperature</div>
<div class="a" style="left:219.30px;top:877.03px;font-size:10.4px;line-height:14.83px;font-weight:normal;color:#231f20">10~30°C</div>
<div class="a" style="left:59.0px;top:889.46px;width:152.50px;height:1.5px;background:#bdbdb7"></div>
<div class="a" style="left:211.3px;top:889.46px;width:533.70px;height:1.1px;background:#2b2b2b"></div>
<div class="a" style="left:212.3px;top:890.56px;width:531.70px;height:0.9px;background:#a9a9a9"></div>
<div class="a" style="left:67.2px;top:892.06px;font-size:10.4px;line-height:14.83px;font-weight:bold;color:#fff">Operation humidity</div>
<div class="a" style="left:219.30px;top:891.86px;font-size:10.4px;line-height:14.83px;font-weight:normal;color:#231f20">30%~80%RH</div>
<div class="a" style="left:59.0px;top:904.29px;width:152.50px;height:1.5px;background:#bdbdb7"></div>
<div class="a" style="left:211.3px;top:904.29px;width:533.70px;height:1.1px;background:#2b2b2b"></div>
<div class="a" style="left:212.3px;top:905.39px;width:531.70px;height:0.9px;background:#a9a9a9"></div>
<div class="a" style="left:67.2px;top:906.89px;font-size:10.4px;line-height:14.83px;font-weight:bold;color:#fff">Weighing pan size</div>
<div class="a" style="left:219.30px;top:906.69px;font-size:10.4px;line-height:14.83px;font-weight:normal;color:#231f20">360×250mm</div>
<div class="a" style="left:59.0px;top:919.12px;width:152.50px;height:1.5px;background:#bdbdb7"></div>
<div class="a" style="left:211.3px;top:919.12px;width:533.70px;height:1.1px;background:#2b2b2b"></div>
<div class="a" style="left:212.3px;top:920.22px;width:531.70px;height:0.9px;background:#a9a9a9"></div>
<div class="a" style="left:67.2px;top:921.72px;font-size:10.4px;line-height:14.83px;font-weight:bold;color:#fff">Power supply</div>
<div class="a" style="left:219.30px;top:921.52px;font-size:10.4px;line-height:14.83px;font-weight:normal;color:#231f20">power adapter (5V/2A)</div>
<div class="a" style="left:59.0px;top:933.95px;width:152.50px;height:1.5px;background:#bdbdb7"></div>
<div class="a" style="left:211.3px;top:933.95px;width:533.70px;height:1.1px;background:#2b2b2b"></div>
<div class="a" style="left:212.3px;top:935.05px;width:531.70px;height:0.9px;background:#a9a9a9"></div>
<div class="a" style="left:67.2px;top:936.55px;font-size:10.4px;line-height:14.83px;font-weight:bold;color:#fff">Data interface</div>
<div class="a" style="left:219.30px;top:936.35px;font-size:10.4px;line-height:14.83px;font-weight:normal;color:#231f20">DB9, Type-C, RS485</div>
<div class="a" style="left:59.0px;top:948.78px;width:152.50px;height:1.5px;background:#bdbdb7"></div>
<div class="a" style="left:211.3px;top:948.78px;width:533.70px;height:1.1px;background:#2b2b2b"></div>
<div class="a" style="left:212.3px;top:949.88px;width:531.70px;height:0.9px;background:#a9a9a9"></div>
<div class="a" style="left:67.2px;top:951.38px;font-size:10.4px;line-height:14.83px;font-weight:bold;color:#fff">Communication protocols</div>
<div class="a" style="left:219.30px;top:951.18px;font-size:10.4px;line-height:14.83px;font-weight:normal;color:#231f20">compatible with SBI (RS232) and SICS communication protocols</div>
</body></html>
